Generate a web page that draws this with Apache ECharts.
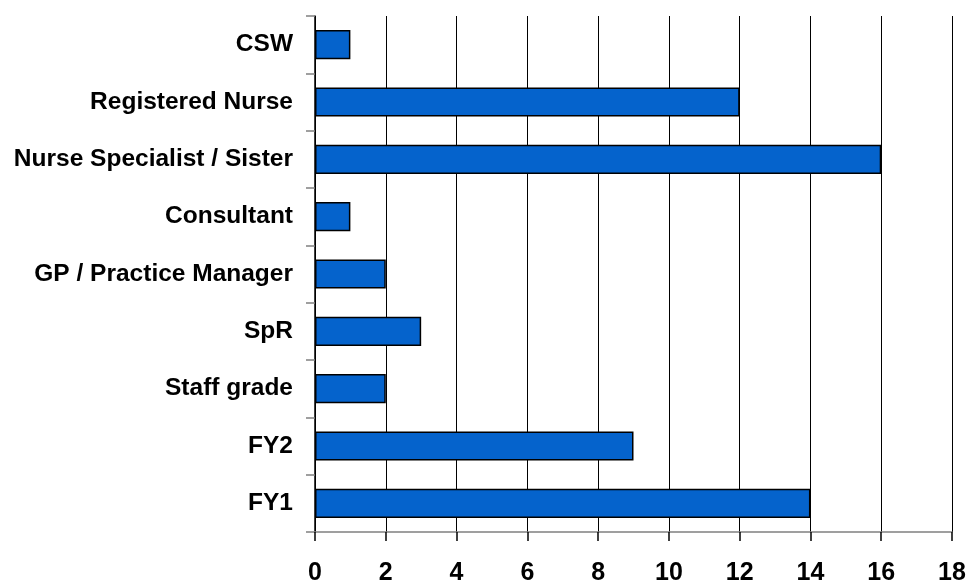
<!DOCTYPE html>
<html>
<head>
<meta charset="utf-8">
<script src="https://cdn.jsdelivr.net/npm/echarts@6/dist/echarts.min.js"></script>
<style>html,body{margin:0;padding:0;background:#fff;}#c{width:968px;height:583px;}</style>
</head>
<body>
<div id="c"></div>
<script>
const categories = ["FY1", "FY2", "Staff grade", "SpR", "GP / Practice Manager", "Consultant", "Nurse Specialist / Sister", "Registered Nurse", "CSW"];
const values = [14, 9, 2, 3, 2, 1, 16, 12, 1];
const xMin = 0, xMax = 18, xStep = 2;

const chart = echarts.init(document.getElementById('c'), null, {renderer: 'canvas'});
chart.setOption({
  animation: false,
  backgroundColor: '#ffffff',
  textStyle: {fontFamily: 'Liberation Sans, Arial, sans-serif'},
  grid: {left: 315, right: 16, top: 16, bottom: 51, containLabel: false, outerBoundsMode: 'none'},
  xAxis: {
    type: 'value', min: xMin, max: xMax, interval: xStep,
    axisLine: {show: true, lineStyle: {color: '#808080', width: 1.5}},
    axisTick: {show: true, length: 9, lineStyle: {color: '#000', width: 1.5}},
    axisLabel: {fontSize: 25, fontWeight: 'bold', color: '#000', margin: 29, fontFamily: 'Liberation Sans, Arial, sans-serif'},
    splitLine: {show: true, lineStyle: {color: '#000', width: 1}}
  },
  yAxis: {
    type: 'category', data: categories,
    axisLine: {show: true, lineStyle: {color: '#000', width: 1.5}},
    axisTick: {show: true, length: 9, alignWithLabel: false, lineStyle: {color: '#808080', width: 1.5}},
    axisLabel: {fontSize: 24.5, fontWeight: 'bold', color: '#000', margin: 22, fontFamily: 'Liberation Sans, Arial, sans-serif'},
    splitLine: {show: false}
  },
  series: [{
    type: 'bar', data: values, barCategoryGap: '49%',
    itemStyle: {color: '#0563CC', borderColor: '#000', borderWidth: 1.5}
  }]
});
</script>
</body>
</html>
